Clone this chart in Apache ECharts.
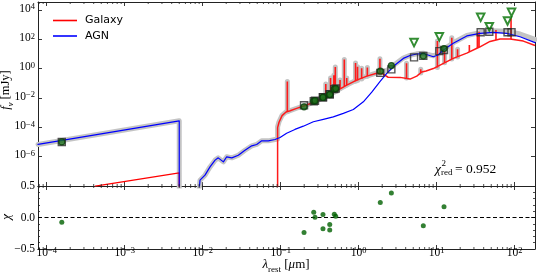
<!DOCTYPE html>
<html><head><meta charset="utf-8">
<script src="https://cdn.jsdelivr.net/npm/echarts@6/dist/echarts.min.js"></script>
<style>html,body{margin:0;padding:0;background:#fff}#c{width:537px;height:275px}</style>
</head><body><div id="c"></div>
<script>
// ---------- data (wavelength in micron, flux in mJy) ----------
const agnXrayLam  = [7.73e-5, 5.0e-3, 5.0e-3];
const agnXrayFlux = [6.8e-6, 2.78e-4, 1e-12];
const agnLam  = [0.0087,0.00923,0.0107,0.0124,0.0144,0.0158,0.0184,0.0203,0.0236,0.0286,0.0348,0.0425,0.0492,0.0570,0.0693,0.0845,0.098,0.119,0.152,0.195,0.262,0.352,0.472,0.635,0.853,1.146,1.47,1.87,2.29,2.92,3.73,4.55,5.55,6.73,7.73,9.04,10.4,12.2,16.3,24.3,35.9,53.2,78.9,117,182];
const agnFlux = [1.0e-9,2.5e-8,5.5e-8,2.0e-7,5.8e-7,8.3e-7,4.4e-7,9.8e-7,8.3e-7,1.26e-6,2.75e-6,5.5e-6,6.8e-6,1.2e-5,1.2e-5,1.48e-5,2.04e-5,4.0e-5,7.2e-5,1.2e-4,2.4e-4,3.5e-4,5.2e-4,8.9e-4,1.66e-3,5.5e-3,0.025,0.129,0.48,1.78,5.0,7.9,10,10.7,8.5,6.5,8.5,18.6,54,170,257,302,257,151,60];

const galXrayLam  = [4.2e-4, 5.0e-3, 5.0e-3];
const galXrayFlux = [9.8e-9, 7.8e-8, 1e-12];
const galLam  = [0.0912,0.0912,0.0951,0.104,0.117,0.132,0.160,0.215,0.290,0.389,0.522,0.702,0.942,1.27,1.70,1.99,2.38,3.39,4.55,5.55,6.43,7.30,9.04,12.2,16.3,24.3,35.9,48.2,64.9,87.1,129,182];
const galFlux = [1e-12,9.6e-5,2.24e-4,6.3e-4,1.10e-3,1.35e-3,1.95e-3,3.3e-3,6.2e-3,0.0135,0.031,0.076,0.166,0.31,0.48,0.47,0.26,0.255,0.195,0.31,0.59,0.69,1.02,2.29,5.0,11.5,31,72,105,105,76,38];

// emission lines of the galaxy model: wavelength, continuum level, peak
const lineLam  = [0.1215,0.378,0.435,0.480,0.501,0.576,0.653,0.702,0.910,0.966,1.09,1.29,1.87,4.10,6.24,10.2,12.6,15.6,18.5,26.2,33.2,34.9,57.5,89.7];
const lineBase = [1.15e-3,0.0126,0.0186,0.025,0.0295,0.044,0.065,0.076,0.141,0.155,0.195,0.31,0.47,0.23,0.50,1.19,2.5,4.6,6.2,13.5,25.7,29.5,89,105];
const linePeak = [0.132,0.089,0.229,0.36,1.29,0.166,4.3,0.23,2.4,1.35,1.05,1.19,4.7,2.3,0.93,76,16.6,129,21,41,257,331,427,2700];

const totLam  = [7.73e-5,5.0e-3,5.0e-3,0.0087,0.00923,0.0107,0.0124,0.0144,0.0158,0.0184,0.0203,0.0236,0.0286,0.0348,0.0425,0.0492,0.0570,0.0693,0.0845,0.0912,0.0912,0.0951,0.104,0.117,0.132,0.160,0.215,0.290,0.389,0.522,0.702,0.942,1.27,1.70,1.87,2.29,2.92,3.73,4.55,5.55,6.73,7.73,9.04,10.4,12.2,16.3,24.3,35.9,53.2,78.9,117,182];
const totFlux = [6.8e-6,2.78e-4,1e-12,1e-9,2.5e-8,5.5e-8,2.0e-7,5.8e-7,8.3e-7,4.4e-7,9.8e-7,8.3e-7,1.26e-6,2.75e-6,5.5e-6,6.8e-6,1.2e-5,1.2e-5,1.48e-5,1.6e-5,1.1e-4,2.4e-4,6.5e-4,1.13e-3,1.4e-3,2.0e-3,3.4e-3,6.4e-3,0.0139,0.0315,0.077,0.168,0.315,0.51,0.55,0.75,2.03,5.26,8.1,10.3,11.3,9.2,7.5,10.0,20.9,59,181,288,382,362,231,98];

const obsLam  = [1.56e-4,0.199,0.265,0.275,0.348,0.348,0.425,0.425,0.486,0.507,1.89,2.62,6.73,12.4];
const obsFlux = [1.02e-5,2.5e-3,6.2e-3,6.6e-3,0.0115,0.0108,0.0176,0.0170,0.041,0.044,0.68,1.62,7.2,23.4];
const obsModel= [1.0e-5,3.2e-3,6.0e-3,6.5e-3,0.0112,0.0112,0.018,0.018,0.040,0.044,0.52,0.89,7.4,18.6];
const chiVal  = [-0.075,-0.24,0.085,0.005,0.048,-0.18,-0.11,-0.20,0.053,0.02,0.24,0.39,-0.13,0.17];

const ulLam   = [5.12,10.8,36.6,47.2,80.9,91.0];
const ulFlux  = [60,148,3160,724,1780,6900];
const ulModel = [5.9,15.8,302,331,302,302];

const xTickExp = [-4,-3,-2,-1,0,1,2];
const yTickExp = [-6,-4,-2,0,2,4];
const chiTicks = [-0.5,0.0,0.5];
const chi2Text = '= 0.952';

// ---------- build ----------
const L = Math.log10;
const X_MIN = -4.112, X_MAX = 2.26, Y_MIN = -8, Y_MAX = 4.546, C_MIN = -0.5, C_MAX = 0.5;
const pairs = (xs, ys) => xs.map((x, i) => [L(x), L(ys[i])]);
const minorX = [];
for (let n = -5; n <= 2; n++) for (let k = 2; k <= 9; k++) { const v = n + L(k); if (v > X_MIN && v < X_MAX) minorX.push(v); }
function spikeData(maxLam) {
  const d = [];
  lineLam.forEach((l, i) => {
    if (l > maxLam) return;
    d.push([L(l), L(lineBase[i])], [L(l), L(linePeak[i])], [L(l), NaN]);
  });
  return d;
}

const INK = '#222';
const SERIF = 'Liberation Serif';
const spine = {show: true, onZero: false, lineStyle: {color: INK, width: 1}};
const tick = {show: true, inside: true, length: 4, lineStyle: {color: INK, width: 0.9}};
const supRich = {
  b: {fontFamily: SERIF, fontSize: 11.5, lineHeight: 15, verticalAlign: 'top', color: '#000'},
  s: {fontFamily: SERIF, fontSize: 8.5, lineHeight: 7, verticalAlign: 'top', color: '#000'}
};
const expFmt = (list) => (v) => {
  const r = Math.round(v);
  if (Math.abs(v - r) > 1e-6 || list.indexOf(r) < 0) return '';
  return '{b|10}{s|' + String(r).replace('-', '\u2212') + '}';
};
function xAx(grid, pos, labels) {
  return {type: 'value', gridIndex: grid, position: pos, min: X_MIN, max: X_MAX,
    axisLine: spine, axisTick: tick, splitLine: {show: false},
    axisLabel: labels ? {show: true, margin: -2.5, formatter: expFmt(xTickExp), rich: supRich} : {show: false}};
}
function yTop(pos, labels) {
  return {type: 'value', gridIndex: 0, position: pos, min: Y_MIN, max: Y_MAX, interval: 2,
    axisLine: spine, axisTick: tick, splitLine: {show: false},
    axisLabel: labels ? {show: true, margin: 3, formatter: expFmt(yTickExp), rich: supRich} : {show: false}};
}
function yChi(pos, labels) {
  return {type: 'value', gridIndex: 1, position: pos, min: C_MIN, max: C_MAX, interval: 0.5,
    axisLine: spine, axisTick: tick, splitLine: {show: false},
    minorTick: {show: true, splitNumber: 5, length: 2, lineStyle: {color: INK, width: 0.8}},
    axisLabel: labels ? {show: true, margin: 3, fontFamily: SERIF, fontSize: 11.5, color: '#000',
      formatter: v => (chiTicks.some(t => Math.abs(t - v) < 1e-9) ? v.toFixed(1).replace('-', '\u2212') : '')} : {show: false}};
}
function minorTicks(grid, ymin, ymax) {
  return {type: 'custom', xAxisIndex: grid * 2, yAxisIndex: grid * 2, silent: true, clip: false, z: 10,
    data: minorX.map(v => [v, ymin]), encode: {x: 0, y: 1},
    renderItem: (p, api) => {
      const x = api.value(0);
      const b = api.coord([x, ymin]), t = api.coord([x, ymax]);
      const st = {stroke: INK, lineWidth: 0.8};
      return {type: 'group', children: [
        {type: 'line', shape: {x1: b[0], y1: b[1], x2: b[0], y2: b[1] - 2}, style: st},
        {type: 'line', shape: {x1: t[0], y1: t[1], x2: t[0], y2: t[1] + 2}, style: st}]};
    }};
}
const lineSer = (name, data, color, width, z, cap) => ({type: 'line', name: name, xAxisIndex: 0, yAxisIndex: 0,
  data: data, showSymbol: false, symbol: 'none', clip: true, z: z, color: color, silent: true, connectNulls: false,
  lineStyle: {color: color, width: width, cap: cap || 'round', join: 'round'}});

const option = {
  animation: false,
  grid: [
    {left: 38, top: 2, width: 497, height: 184, outerBoundsMode: 'none', containLabel: false},
    {left: 38, top: 186, width: 497, height: 63, outerBoundsMode: 'none', containLabel: false}
  ],
  legend: {data: ['Galaxy', 'AGN'], orient: 'vertical', left: 48, top: 9, icon: 'rect',
    itemWidth: 24, itemHeight: 1.6, itemGap: 2.5, selectedMode: false,
    textStyle: {fontFamily: 'DejaVu Sans', fontSize: 11, color: '#000', lineHeight: 13, padding: [0, 0, 0, 3]}},
  xAxis: [xAx(0, 'bottom', false), xAx(0, 'top', false), xAx(1, 'bottom', true), xAx(1, 'top', false)],
  yAxis: [yTop('left', true), yTop('right', false), yChi('left', true), yChi('right', false)],
  series: [
    lineSer('Model', pairs(totLam, totFlux), '#c4c4c4', 5, 1),
    lineSer('ModelLines', spikeData(20), '#c4c4c4', 5, 1),
    lineSer('Galaxy', pairs(galXrayLam, galXrayFlux), '#ff0000', 1.3, 2),
    lineSer('Galaxy', pairs(galLam, galFlux), '#ff1a1a', 1.5, 2, 'butt'),
    lineSer('GalaxyLines', spikeData(1000), '#ff1a1a', 1.6, 2, 'butt'),
    lineSer('AGN', pairs(agnXrayLam, agnXrayFlux), '#0000ff', 1.2, 3),
    lineSer('AGN', pairs(agnLam, agnFlux), '#0000ff', 1.2, 3),
    {type: 'scatter', name: 'ModelFlux', xAxisIndex: 0, yAxisIndex: 0, z: 4, silent: true,
      data: pairs(obsLam.concat(ulLam), obsModel.concat(ulModel)), symbol: 'rect', symbolSize: 7,
      itemStyle: {color: 'rgba(0,0,0,0)', borderColor: '#2a2a2a', borderWidth: 1.4}},
    {type: 'scatter', name: 'Observed', xAxisIndex: 0, yAxisIndex: 0, z: 5, silent: true,
      data: pairs(obsLam, obsFlux), symbol: 'circle', symbolSize: 6,
      itemStyle: {color: '#1a6e1a', borderColor: '#083f08', borderWidth: 1.2}},
    {type: 'scatter', name: 'UpperLimit', xAxisIndex: 0, yAxisIndex: 0, z: 5, silent: true,
      data: pairs(ulLam, ulFlux), symbol: 'triangle', symbolRotate: 180, symbolSize: 7.5,
      itemStyle: {color: 'rgba(255,255,255,0)', borderColor: '#007000', borderWidth: 2}},
    {type: 'scatter', name: 'Residual', xAxisIndex: 2, yAxisIndex: 2, z: 5, silent: true,
      data: obsLam.map((l, i) => [L(l), chiVal[i]]), symbol: 'circle', symbolSize: 5,
      itemStyle: {color: '#006000'},
      markLine: {silent: true, symbol: ['none', 'none'], label: {show: false},
        lineStyle: {type: [4, 2.5], color: '#000', width: 1.2}, data: [{yAxis: 0}]}},
    minorTicks(0, Y_MIN, Y_MAX),
    minorTicks(1, C_MIN, C_MAX)
  ],
  graphic: [
    {type: 'text', x: 7, y: 90, rotation: Math.PI / 2, style: {text: '{i|f}{s|\u03bd}{n| [mJy]}', align: 'center', verticalAlign: 'middle',
      rich: {n: {fontFamily: SERIF, fontSize: 12.5, lineHeight: 16, verticalAlign: 'top', fill: '#000'},
             i: {fontFamily: SERIF, fontSize: 12.5, fontStyle: 'italic', lineHeight: 16, verticalAlign: 'top', fill: '#000'},
             s: {fontFamily: SERIF, fontSize: 8.5, fontStyle: 'italic', lineHeight: 9, verticalAlign: 'bottom', fill: '#000'}}}},
    {type: 'text', x: 7, y: 217, rotation: Math.PI / 2, style: {text: '\u03c7', fontFamily: SERIF, fontSize: 13, fontStyle: 'italic', fill: '#000', align: 'center', verticalAlign: 'middle'}},
    {type: 'text', x: 286, y: 266, style: {text: '{i|\u03bb}{s|rest}{n| [}{i|\u03bc}{n|m]}', align: 'center', verticalAlign: 'middle',
      rich: {n: {fontFamily: SERIF, fontSize: 13, lineHeight: 16, verticalAlign: 'top', fill: '#000'},
             i: {fontFamily: SERIF, fontSize: 13, fontStyle: 'italic', lineHeight: 16, verticalAlign: 'top', fill: '#000'},
             s: {fontFamily: SERIF, fontSize: 9, lineHeight: 9, verticalAlign: 'bottom', fill: '#000'}}}},
    {type: 'text', x: 435, y: 169, style: {text: '\u03c7', fontFamily: SERIF, fontSize: 13.5, fontStyle: 'italic', fill: '#000', align: 'left', verticalAlign: 'middle'}},
    {type: 'text', x: 441.5, y: 163.5, style: {text: '2', fontFamily: SERIF, fontSize: 9, fill: '#000', align: 'left', verticalAlign: 'middle'}},
    {type: 'text', x: 441, y: 172.5, style: {text: 'red', fontFamily: SERIF, fontSize: 9, fill: '#000', align: 'left', verticalAlign: 'middle'}},
    {type: 'text', x: 455, y: 169, style: {text: chi2Text, fontFamily: SERIF, fontSize: 13.5, fill: '#000', align: 'left', verticalAlign: 'middle'}}
  ]
};
const chart = echarts.init(document.getElementById('c'), null, {renderer: 'canvas'});
chart.setOption(option);
</script></body></html>
